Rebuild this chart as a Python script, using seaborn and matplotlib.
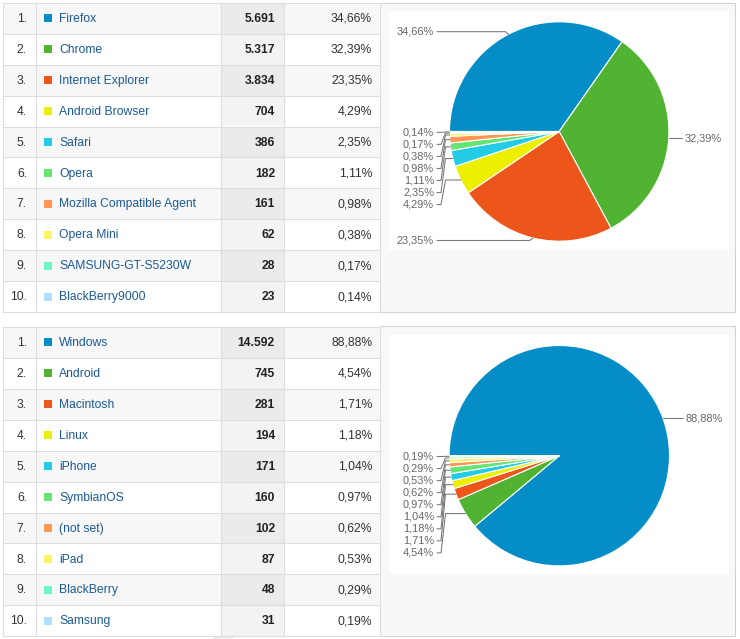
import math

import matplotlib
matplotlib.use("Agg")
import matplotlib.pyplot as plt
from matplotlib.patches import Rectangle
import seaborn as sns

# top 10 browsers
browsers = ["Firefox", "Chrome", "Internet Explorer", "Android Browser", "Safari",
            "Opera", "Mozilla Compatible Agent", "Opera Mini", "SAMSUNG-GT-S5230W",
            "BlackBerry9000"]
browser_visits = [5691, 5317, 3834, 704, 386, 182, 161, 62, 28, 23]
browser_share = [34.66, 32.39, 23.35, 4.29, 2.35, 1.11, 0.98, 0.38, 0.17, 0.14]

# top 10 operating systems
systems = ["Windows", "Android", "Macintosh", "Linux", "iPhone", "SymbianOS",
           "(not set)", "iPad", "BlackBerry", "Samsung"]
system_visits = [14592, 745, 281, 194, 171, 160, 102, 87, 48, 31]
system_share = [88.88, 4.54, 1.71, 1.18, 1.04, 0.97, 0.62, 0.53, 0.29, 0.19]

slice_colors = ["#058dc7", "#50b432", "#ed561b", "#edef00", "#24cbe5",
                "#64e572", "#ff9655", "#fff263", "#6af9c4", "#b2deff"]

W, H = 740, 639
ROW_H = 30.95
TS = 8.75  # table text, ~12px
LS = 7.9   # pie labels, ~11px
GRID = "#dddddd"

sns.set_theme(style="white")
plt.rcParams["font.family"] = ["Liberation Sans", "DejaVu Sans"]
palette = sns.color_palette(slice_colors)

fig = plt.figure(figsize=(W / 100, H / 100), dpi=100)
ax = fig.add_axes([0, 0, 1, 1])


def fmt_pct(p):
    return f"{p:.2f}".replace(".", ",") + "%"


def fmt_int(v):
    return f"{v:,}".replace(",", ".")


def draw_table(top, names, visits, share):
    for i, (name, v, p) in enumerate(zip(names, visits, share)):
        y0 = top + i * ROW_H
        yc = y0 + ROW_H / 2 + 0.6
        odd = i % 2 == 0
        ax.add_patch(Rectangle((3, y0), 377, ROW_H, fc="#f7f7f7" if odd else "white",
                               ec="none", zorder=1))
        ax.add_patch(Rectangle((221, y0), 63, ROW_H, fc="#ebebeb" if odd else "#f3f3f3",
                               ec="none", zorder=1))
        ax.add_patch(Rectangle((43.5, yc - 4.5), 8, 8, fc=palette[i], ec="none", zorder=3))
        ax.text(27, yc, f"{i + 1}.", ha="right", va="center", fontsize=TS, color="#333333")
        ax.text(59, yc, name, ha="left", va="center", fontsize=TS, color="#1b5a96")
        ax.text(275, yc, fmt_int(v), ha="right", va="center", fontsize=TS,
                fontweight="bold", color="#222222")
        ax.text(372, yc, fmt_pct(p), ha="right", va="center", fontsize=TS, color="#333333")
    bottom = top + 10 * ROW_H
    for i in range(11):
        y = top + i * ROW_H
        ax.plot([3, 380], [y, y], color=GRID, lw=0.75, zorder=2)
    for x in [3, 36, 221, 284, 380]:
        ax.plot([x, x], [top, bottom], color=GRID, lw=0.75, zorder=2)


def draw_panel(top, bottom, white_top, white_bottom):
    ax.add_patch(Rectangle((380, top), 355, bottom - top, fc="#f8f8f8",
                           ec="#d2d2d2", lw=0.75, zorder=0.5))
    ax.add_patch(Rectangle((389, white_top), 339.5, white_bottom - white_top,
                           fc="white", ec="none", zorder=0.6))


def draw_pie(cx, cy, r, share):
    wedges, _ = ax.pie(share, colors=palette, startangle=180, counterclock=True,
                       center=(cx, cy), radius=r,
                       wedgeprops=dict(edgecolor="white", linewidth=0.8))
    for w in wedges:
        w.set_zorder(2)
    small = [i for i, p in enumerate(share) if p < 10]
    stack = {idx: k for k, idx in enumerate(reversed(small))}
    for i, (w, p) in enumerate(zip(wedges, share)):
        mid = math.radians((w.theta1 + w.theta2) / 2)
        ex, ey = cx + r * math.cos(mid), cy + r * math.sin(mid)
        if i in stack:
            ly = cy + 0.8 + 12.05 * stack[i]
            ax.plot([437, 441, 445.5, ex], [ly, ly, ey, ey], color="#777777",
                    lw=0.75, zorder=3)
            ax.text(434, ly, fmt_pct(p), ha="right", va="center", fontsize=LS,
                    color="#666666", zorder=3)
        elif math.cos(mid) > 0:
            ax.plot([ex, cx + r + 13], [ey, ey], color="#777777", lw=0.75, zorder=3)
            ax.text(cx + r + 16, ey, fmt_pct(p), ha="left", va="center", fontsize=LS,
                    color="#666666", zorder=3)
        else:
            ly = ey + 2.5 * (1 if math.sin(mid) > 0 else -1)
            ax.plot([ex, ex - 3, 437], [ey, ly, ly], color="#777777", lw=0.75, zorder=3)
            ax.text(434, ly, fmt_pct(p), ha="right", va="center", fontsize=LS,
                    color="#666666", zorder=3)


draw_table(2.7, browsers, browser_visits, browser_share)
draw_table(326.8, systems, system_visits, system_share)
draw_panel(2.7, 311.7, 11, 250)
draw_panel(326, 635.5, 335, 574)
draw_pie(559.2, 131.5, 109.7, browser_share)
draw_pie(559.3, 455.7, 110.2, system_share)

# small scroll stub under the second table
ax.add_patch(Rectangle((213, 636.5), 20, 3, fc="#eeeeee", ec="none", zorder=1))

ax.set_xlim(0, W)
ax.set_ylim(H, 0)
ax.set_aspect("auto")
ax.axis("off")

fig.savefig("out.png", dpi=100, facecolor="white")
